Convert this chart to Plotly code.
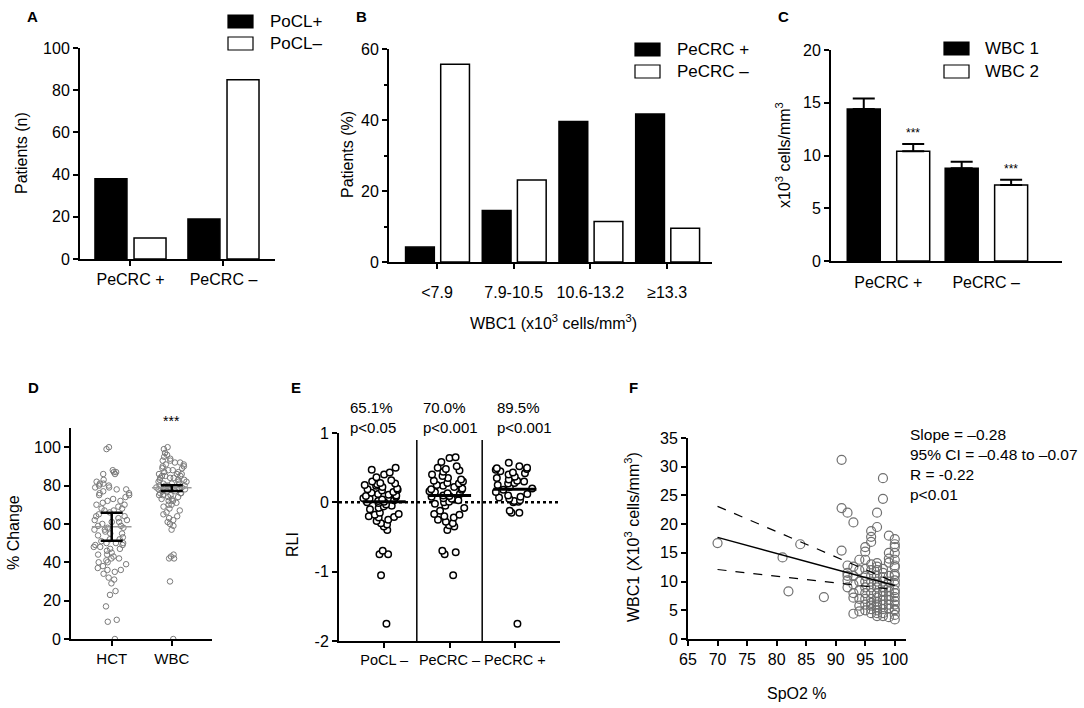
import plotly.graph_objects as go

W, H = 1084, 708
FONT = "Arial, Liberation Sans, sans-serif"

# ---- panel A: patients (n)
a_groups = ["PeCRC +", "PeCRC –"]
a_series = ["PoCL+", "PoCL–"]
a_pocl_pos = [38, 19]
a_pocl_neg = [10, 85]

# ---- panel B: patients (%) by WBC1 bin
b_bins = ["<7.9", "7.9-10.5", "10.6-13.2", "≥13.3"]
b_series = ["PeCRC +", "PeCRC –"]
b_pecrc_pos = [4.2, 14.5, 39.6, 41.7]
b_pecrc_neg = [55.7, 23.1, 11.4, 9.5]

# ---- panel C: WBC1 / WBC2 mean + SEM
c_groups = ["PeCRC +", "PeCRC –"]
c_series = ["WBC 1", "WBC 2"]
c_wbc1 = [14.4, 8.8]
c_wbc1_err = [1.0, 0.6]
c_wbc2 = [10.4, 7.2]
c_wbc2_err = [0.7, 0.5]
c_stars = ["***", "***"]

# ---- panel D: % change
d_groups = ["HCT", "WBC"]
d_hct = [100, 99, 88, 87, 87, 86, 86, 83, 82, 81, 81, 80, 80, 79, 79, 78, 78, 77,
         76, 76, 75, 75, 74, 73, 72, 72, 71, 70, 70, 69, 68, 68, 67, 67, 66, 65,
         64, 64, 63, 62, 62, 61, 61, 60, 59, 59, 58, 58, 57, 57, 56, 55, 55, 54,
         53, 52, 52, 51, 50, 50, 50, 49, 49, 48, 48, 47, 47, 46, 45, 44, 44, 43,
         42, 42, 41, 40, 40, 39, 38, 37, 36, 36, 35, 34, 32, 31, 29, 25, 23, 17,
         10, 9, 0]
d_wbc = [100, 99, 97, 96, 95, 94, 93, 93, 92, 92, 91, 91, 90, 90, 89, 89, 88, 88,
         87, 87, 86, 86, 86, 85, 85, 85, 84, 84, 84, 83, 83, 83, 82, 82, 82, 81,
         81, 81, 80, 80, 80, 80, 79, 79, 79, 79, 78, 78, 78, 78, 77, 77, 77, 76,
         76, 76, 75, 75, 75, 74, 74, 73, 73, 72, 72, 71, 70, 70, 69, 68, 67, 66,
         65, 64, 63, 62, 61, 60, 59, 57, 44, 43, 42, 42, 30, 0]
d_median = [58.5, 78.8]
d_ci_low = [51.2, 77.2]
d_ci_high = [65.8, 80.2]
d_stars = ["", "***"]

# ---- panel E: RLI
e_groups = ["PoCL –", "PeCRC –", "PeCRC +"]
e_pocl_neg = [0.5, 0.47, 0.43, 0.4, 0.36, 0.32, 0.3, 0.28, 0.27, 0.26, 0.25, 0.24,
              0.22, 0.2, 0.19, 0.18, 0.17, 0.15, 0.14, 0.12, 0.11, 0.1, 0.09, 0.08,
              0.06, 0.05, 0.04, 0.03, 0.02, 0.01, 0.0, -0.01, -0.03, -0.05, -0.06,
              -0.08, -0.1, -0.15, -0.17, -0.18, -0.2, -0.21, -0.22, -0.25, -0.27,
              -0.3, -0.32, -0.35, -0.4, -0.7, -0.75, -0.75, -1.05, -1.75]
e_pecrc_neg = [0.65, 0.64, 0.58, 0.52, 0.5, 0.48, 0.46, 0.44, 0.4, 0.38, 0.35, 0.33,
               0.31, 0.3, 0.28, 0.27, 0.25, 0.24, 0.22, 0.2, 0.19, 0.18, 0.16, 0.15,
               0.13, 0.12, 0.1, 0.09, 0.08, 0.06, 0.05, 0.03, 0.01, 0.0, -0.02, -0.05,
               -0.08, -0.12, -0.17, -0.18, -0.2, -0.22, -0.25, -0.28, -0.3, -0.33,
               -0.35, -0.4, -0.7, -0.72, -0.75, -1.05]
e_pecrc_pos = [0.57, 0.52, 0.5, 0.49, 0.48, 0.47, 0.45, 0.43, 0.42, 0.4, 0.37, 0.35,
               0.33, 0.31, 0.3, 0.28, 0.27, 0.25, 0.22, 0.2, 0.18, 0.15, 0.12, 0.1,
               0.08, 0.07, 0.05, 0.03, 0.02, 0.01, 0.0, -0.12, -0.15, -0.15, -1.75]
e_median = [0.01, 0.1, 0.19]
e_notes = ["65.1%<br>p&lt;0.05", "70.0%<br>p&lt;0.001", "89.5%<br>p&lt;0.001"]

# ---- panel F: SpO2 vs WBC1
f_spo2 = ([70, 81, 82, 84, 88, 91, 91, 91, 92, 93, 97, 97, 98, 98, 99]
          + [92] * 5 + [93] * 6 + [94] * 7 + [95] * 11 + [96] * 14 + [97] * 15
          + [98] * 12 + [99] * 12 + [100] * 20)
f_wbc1 = ([16.7, 14.2, 8.3, 16.5, 7.3, 31.2, 22.8, 15.4, 22.0, 20.3, 22.0, 19.5, 28.0, 24.4, 18.0]
          + [12.8, 11.5, 11.0, 10.2, 9.0]
          + [12.6, 11.0, 9.5, 8.0, 7.2, 4.4]
          + [13.8, 12.0, 10.0, 8.5, 7.0, 5.8, 4.8]
          + [16.0, 15.2, 13.8, 12.2, 11.0, 10.0, 9.0, 8.0, 7.0, 6.0, 5.0]
          + [18.8, 17.8, 16.9, 13.0, 12.0, 11.0, 10.0, 9.0, 8.0, 7.0, 6.3, 5.8, 5.2, 4.5]
          + [13.2, 12.6, 12.0, 11.0, 10.0, 9.5, 9.0, 8.0, 7.2, 6.5, 6.0, 5.5, 5.0, 4.5, 4.0]
          + [12.2, 11.5, 10.8, 10.0, 9.0, 8.2, 7.5, 6.8, 6.0, 5.2, 4.5, 4.0]
          + [15.0, 14.0, 13.3, 11.0, 10.0, 9.0, 8.3, 7.5, 6.8, 6.0, 5.3, 3.8]
          + [17.4, 16.5, 16.0, 15.0, 13.8, 12.8, 12.5, 11.3, 11.0, 10.2, 9.5, 8.5,
             8.0, 7.3, 6.6, 6.0, 5.2, 5.0, 4.2, 3.4])
f_fit_x = [70, 100]
f_fit_y = [17.7, 9.3]
f_ci_upper = [23.1, 9.9]
f_ci_lower = [12.1, 8.6]
f_stats = ["Slope = –0.28", "95% CI = –0.48 to –0.07", "R = -0.22", "p<0.01"]


def px(x):
    return x / W


def py(y):
    return 1 - y / H


def axis(dom, anchor, size=16, **kw):
    d = dict(domain=dom, anchor=anchor, automargin=False, showline=True,
             linecolor="black", linewidth=2,
             ticks="outside", ticklen=5, tickwidth=2, tickcolor="black",
             showgrid=False, zeroline=False, tickfont=dict(size=size, color="black"))
    d.update(kw)
    return d


def note(text, x, y, size=16, **kw):
    d = dict(text=text, x=x, y=y, xref="paper", yref="paper", xanchor="center",
             yanchor="middle", showarrow=False, font=dict(size=size))
    d.update(kw)
    return d


fig = go.Figure()

# A
fig.add_trace(go.Bar(x=a_groups, y=a_pocl_pos, width=0.344, offset=-0.382,
                     marker=dict(color="black", line=dict(color="black", width=1.5)),
                     xaxis="x", yaxis="y", showlegend=False))
fig.add_trace(go.Bar(x=a_groups, y=a_pocl_neg, width=0.344, offset=0.038,
                     marker=dict(color="white", line=dict(color="black", width=1.5)),
                     xaxis="x", yaxis="y", showlegend=False))

# B
fig.add_trace(go.Bar(x=b_bins, y=b_pecrc_pos, width=0.375, offset=-0.41,
                     marker=dict(color="black", line=dict(color="black", width=1.5)),
                     xaxis="x2", yaxis="y2", showlegend=False))
fig.add_trace(go.Bar(x=b_bins, y=b_pecrc_neg, width=0.375, offset=0.048,
                     marker=dict(color="white", line=dict(color="black", width=1.5)),
                     xaxis="x2", yaxis="y2", showlegend=False))

# C
c_w, c_off = 0.337, [-0.419, 0.086]
for vals, errs, col, off in [(c_wbc1, c_wbc1_err, "black", c_off[0]),
                             (c_wbc2, c_wbc2_err, "white", c_off[1])]:
    fig.add_trace(go.Bar(x=c_groups, y=vals, width=c_w, offset=off,
                         marker=dict(color=col, line=dict(color="black", width=1.5)),
                         error_y=dict(type="data", symmetric=False, array=errs,
                                      arrayminus=[0] * len(errs), color="black",
                                      thickness=2, width=11),
                         xaxis="x3", yaxis="y3", showlegend=False))

# D
for i, vals in enumerate([d_hct, d_wbc]):
    fig.add_trace(go.Box(y=vals, x0=i, boxpoints="all", jitter=1, pointpos=0,
                         width=0.64, fillcolor="rgba(0,0,0,0)", line=dict(width=0, color="rgba(0,0,0,0)"),
                         marker=dict(size=5.5, color="rgba(255,255,255,0)",
                                     line=dict(color="#7a7a7a", width=1)),
                         xaxis="x4", yaxis="y4", showlegend=False))
mx, my = [], []
for i, m in enumerate(d_median):
    mx += [i - 0.33, i + 0.33, None]
    my += [m, m, None]
fig.add_trace(go.Scatter(x=mx, y=my, mode="lines", line=dict(color="#9a9a9a", width=1.5),
                         xaxis="x4", yaxis="y4", showlegend=False))
fig.add_trace(go.Scatter(x=list(range(len(d_median))), y=d_median, mode="markers",
                         marker=dict(size=1, color="rgba(0,0,0,0)"),
                         error_y=dict(type="data", symmetric=False,
                                      array=[h - m for h, m in zip(d_ci_high, d_median)],
                                      arrayminus=[m - l for m, l in zip(d_median, d_ci_low)],
                                      color="black", thickness=2.5, width=11),
                         xaxis="x4", yaxis="y4", showlegend=False))

# E
for i, vals in enumerate([e_pocl_neg, e_pecrc_neg, e_pecrc_pos]):
    fig.add_trace(go.Box(y=vals, x0=i, boxpoints="all", jitter=1, pointpos=0,
                         width=0.68, fillcolor="rgba(0,0,0,0)", line=dict(width=0, color="rgba(0,0,0,0)"),
                         marker=dict(size=6.5, color="white", line=dict(color="black", width=1.5)),
                         xaxis="x5", yaxis="y5", showlegend=False))
ex, ey = [], []
for i, m in enumerate(e_median):
    ex += [i - 0.33, i + 0.33, None]
    ey += [m, m, None]
fig.add_trace(go.Scatter(x=ex, y=ey, mode="lines", line=dict(color="black", width=3),
                         xaxis="x5", yaxis="y5", showlegend=False))

# F
fig.add_trace(go.Scatter(x=f_spo2, y=f_wbc1, mode="markers",
                         marker=dict(size=9, color="rgba(255,255,255,0)",
                                     line=dict(color="#707070", width=1.2)),
                         xaxis="x6", yaxis="y6", showlegend=False))
fig.add_trace(go.Scatter(x=f_fit_x, y=f_fit_y, mode="lines", line=dict(color="black", width=1.5),
                         xaxis="x6", yaxis="y6", showlegend=False))
for band in [f_ci_upper, f_ci_lower]:
    fig.add_trace(go.Scatter(x=f_fit_x, y=band, mode="lines",
                             line=dict(color="black", width=1.2, dash="dash"),
                             xaxis="x6", yaxis="y6", showlegend=False))

shapes, annos = [], []

# separators and dotted zero line in E
for xs in [0.5, 1.5]:
    shapes.append(dict(type="line", xref="x5", yref="y5", x0=xs, x1=xs, y0=-2, y1=0.9,
                       line=dict(color="black", width=1.5)))
shapes.append(dict(type="line", xref="x5 domain", yref="y5", x0=0, x1=1, y0=0, y1=0,
                   line=dict(color="black", width=2.5, dash="dot"), layer="below"))

# custom legends (box + label)
for names, bx, by, tx in [(a_series, 228, [15, 37], 268),
                          (b_series, 635, [43, 65], 675),
                          (c_series, 944, [42, 65], 983)]:
    for name, y0, col in zip(names, by, ["black", "white"]):
        shapes.append(dict(type="rect", xref="paper", yref="paper",
                           x0=px(bx), x1=px(bx + 25), y0=py(y0 + 13), y1=py(y0),
                           fillcolor=col, line=dict(color="black", width=1.2)))
        annos.append(note(name, px(tx), py(y0 + 6.5), size=17, xanchor="left"))

# stars in C
for i, (s, v, e) in enumerate(zip(c_stars, c_wbc2, c_wbc2_err)):
    annos.append(dict(text=s, x=i + c_off[1] + c_w / 2, y=v + e, xref="x3", yref="y3",
                      xanchor="center", yanchor="bottom", showarrow=False,
                      font=dict(size=12), yshift=2))
# stars in D
for i, s in enumerate(d_stars):
    if s:
        annos.append(dict(text=s, x=i, y=110, xref="x4", yref="y4", xanchor="center",
                          yanchor="bottom", showarrow=False, font=dict(size=14), yshift=-3))
# notes in E
for txt, xpos in zip(e_notes, [-0.55, 0.57, 1.7]):
    annos.append(dict(text=txt, x=xpos, y=1.0, xref="x5", yref="y5", xanchor="left",
                      yanchor="bottom", align="left", showarrow=False, font=dict(size=15),
                      yshift=-5))
# stats in F
annos.append(note("<br>".join(f_stats), px(908), py(424), size=15.5, xanchor="left",
                  yanchor="top", align="left"))

# panel letters
for lab, x, y in [("A", 32, 16), ("B", 362, 16), ("C", 783, 16),
                  ("D", 33, 387), ("E", 296, 387), ("F", 633, 387)]:
    annos.append(note("<b>%s</b>" % lab, px(x), py(y), size=15))

# axis titles
for t, x, y, ang in [("Patients (n)", 22, 153, -90),
                     ("Patients (%)", 347, 155, -90),
                     ("WBC1 (x10<sup>3</sup> cells/mm<sup>3</sup>)", 553, 322, 0),
                     ("x10<sup>3</sup> cells/mm<sup>3</sup>", 783, 155, -90),
                     ("% Change", 13, 533, -90),
                     ("RLI", 292, 545, -90),
                     ("WBC1 (X10<sup>3</sup> cells/mm<sup>3</sup>)", 632, 537, -90),
                     ("SpO2 %", 797, 693, 0)]:
    annos.append(note(t, px(x), py(y), size=16, textangle=ang))

fig.update_layout(
    width=W, height=H, margin=dict(l=0, r=0, t=0, b=0),
    paper_bgcolor="white", plot_bgcolor="white",
    font=dict(family=FONT, color="black"),
    showlegend=False, shapes=shapes, annotations=annos,
    xaxis=axis([px(80), px(275)], "y", range=[-0.543, 1.554]),
    yaxis=axis([py(259), py(48)], "x", range=[0, 100], dtick=20),
    xaxis2=axis([px(389), px(712)], "y2", range=[-0.626, 3.585], ticklabelstandoff=10),
    yaxis2=axis([py(262), py(49)], "x2", range=[0, 60], dtick=20,
                minor=dict(dtick=10, ticks="outside", ticklen=3, tickcolor="black", tickwidth=1.5)),
    xaxis3=axis([px(831), px(1062)], "y3", range=[-0.585, 1.774], ticks="",
                ticklabelstandoff=6),
    yaxis3=axis([py(261), py(50)], "x3", range=[0, 20], dtick=5),
    xaxis4=axis([px(71), px(212)], "y4", size=15, range=[-0.678, 1.67], tickmode="array",
                tickvals=list(range(len(d_groups))), ticktext=d_groups),
    yaxis4=axis([py(639), py(428)], "x4", range=[0, 110], tickmode="array",
                tickvals=list(range(0, 101, 20))),
    xaxis5=axis([px(339), px(560)], "y5", size=14.5, range=[-0.69, 2.69], tickmode="array",
                tickvals=list(range(len(e_groups))), ticktext=e_groups, tickangle=0),
    yaxis5=axis([py(641), py(433)], "x5", range=[-2, 1], tickmode="array",
                tickvals=[-2, -1, 0, 1], ticktext=[str(v) for v in [-2, -1, 0, 1]]),
    xaxis6=axis([px(688), px(906)], "y6", range=[65, 101.9], dtick=5, tick0=65),
    yaxis6=axis([py(639), py(438)], "x6", range=[0, 35], dtick=5),
)

# the page body has a default 8px margin; drop it so the figure fills the window
fig.write_html("out.html", config={"displayModeBar": False},
               post_script="document.body.style.margin = '0';")
